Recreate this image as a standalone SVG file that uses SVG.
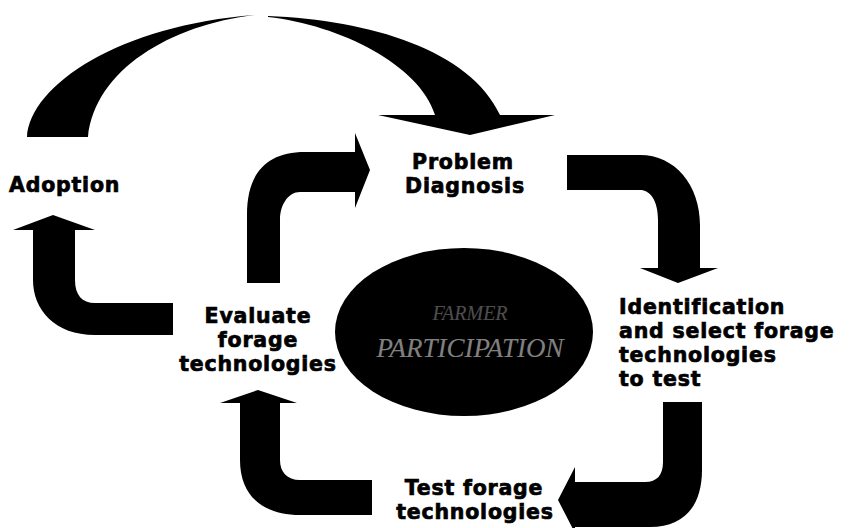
<svg xmlns="http://www.w3.org/2000/svg" width="851" height="528" viewBox="0 0 851 528">
<style>
.lbl{font-family:"DejaVu Sans","Verdana",sans-serif;font-weight:bold;font-size:20.5px;letter-spacing:0.8px;fill:#000;stroke:#000;stroke-width:0.7px}
.mid{text-anchor:middle}
.arr{fill:#000}
.inner{font-family:"Liberation Serif",serif;font-style:italic;fill:#fff;text-anchor:middle}
</style>
<rect width="851" height="528" fill="#fff"/>
<g id="connectors">
<path class="arr" d="M27,137 C30,85 120,25 255,15 C170,25 95,70 88,137 Z"/>
<path class="arr" d="M268,16 C370,20 470,50 500,115 L555,115 L470,135 L378,115 L435,115 C420,65 340,25 268,17 Z"/>
<path class="arr" d="M247,283 L247,215 C247,175 265,152 305,152 L355,152 L355,133 L370,170 L355,208 L355,192 L300,192 C288,192 280,205 280,220 L280,283 Z"/>
<path class="arr" d="M567,155 L640,155 C675,155 700,185 700,225 L700,268 L718,268 L678,283 L640,268 L658,268 L658,220 C658,200 650,190 640,190 L567,190 Z"/>
<path class="arr" d="M663,402 L702,402 L702,470 C702,505 685,527 650,527 L575,527 L575,533 L558,500 L575,467 L575,482 L645,482 C657,482 663,475 663,462 Z"/>
<path class="arr" d="M240,403 L220,403 L258,390 L297,403 L280,403 L280,460 C280,472 287,480 300,480 L372,480 L372,515 L300,515 C262,515 240,495 240,460 Z"/>
<path class="arr" d="M33,230 L13,230 L53,215 L95,230 L75,230 L75,280 C75,295 82,303 95,303 L173,303 L173,335 L95,335 C55,335 33,310 33,280 Z"/>
</g>
<g id="center">
<ellipse cx="464" cy="332" rx="129" ry="84" fill="#000"/>
<text class="inner" x="470" y="320" font-size="20" opacity="0.3">FARMER</text>
<text class="inner" x="470" y="357" font-size="27" opacity="0.5">PARTICIPATION</text>
</g>
<g id="problem">
<text class="lbl mid" x="463" y="169">Problem</text>
<text class="lbl mid" x="465" y="193">Diagnosis</text>
</g>
<g id="identification">
<text class="lbl" x="619" y="314">Identification</text>
<text class="lbl" x="619" y="338">and select forage</text>
<text class="lbl" x="619" y="362">technologies</text>
<text class="lbl" x="619" y="386">to test</text>
</g>
<g id="test">
<text class="lbl mid" x="474" y="495">Test forage</text>
<text class="lbl mid" x="475" y="519">technologies</text>
</g>
<g id="evaluate">
<text class="lbl mid" x="258" y="323">Evaluate</text>
<text class="lbl mid" x="258" y="347">forage</text>
<text class="lbl mid" x="258" y="371">technologies</text>
</g>
<g id="adoption">
<text class="lbl" x="9" y="192">Adoption</text>
</g>
</svg>
